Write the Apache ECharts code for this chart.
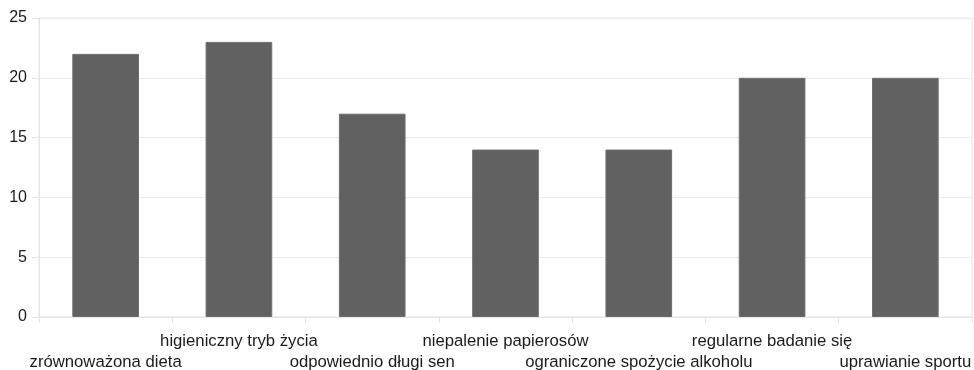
<!DOCTYPE html>
<html>
<head>
<meta charset="utf-8">
<script src="https://cdn.jsdelivr.net/npm/echarts@6/dist/echarts.min.js"></script>
<style>
  html, body { margin: 0; padding: 0; background: #fff; }
  #chart { width: 974px; height: 370px; }
</style>
</head>
<body>
<div id="chart"></div>
<script>
// Healthy lifestyle factors and their counts
const categories = [
  'zrównoważona dieta',
  'higieniczny tryb życia',
  'odpowiednio długi sen',
  'niepalenie papierosów',
  'ograniczone spożycie alkoholu',
  'regularne badanie się',
  'uprawianie sportu'
];
const values = [22, 23, 17, 14, 14, 20, 20];
const yTicks = { min: 0, max: 25, interval: 5 };

const font = '"Liberation Sans", Arial, sans-serif';
const chart = echarts.init(document.getElementById('chart'));

chart.setOption({
  animation: false,
  grid: {
    left: 39, right: 2, top: 18, bottom: 53,
    outerBoundsMode: 'none',
    show: true, borderColor: '#e4e4e4', borderWidth: 1
  },
  xAxis: {
    type: 'category',
    data: categories,
    axisLine: { show: true, lineStyle: { color: '#e4e4e4' } },
    axisTick: { show: true, length: 6, lineStyle: { color: '#e4e4e4' } },
    axisLabel: {
      interval: 0,
      hideOverlap: false,
      margin: 14,
      fontSize: 16.7,
      lineHeight: 21,
      color: '#1a1a1a',
      fontFamily: font,
      verticalAlign: 'top',
      // alternate labels between two rows
      formatter: (name, idx) => (idx % 2 === 1 ? name : '\n' + name)
    }
  },
  yAxis: {
    type: 'value',
    min: yTicks.min,
    max: yTicks.max,
    interval: yTicks.interval,
    axisLine: { show: true, lineStyle: { color: '#e4e4e4' } },
    axisTick: { show: true, length: 7, lineStyle: { color: '#e4e4e4' } },
    splitLine: { show: true, lineStyle: { color: '#ececec' } },
    axisLabel: {
      margin: 12,
      fontSize: 16,
      color: '#1a1a1a',
      fontFamily: font
    }
  },
  series: [{
    type: 'bar',
    data: values,
    barWidth: '50%',
    itemStyle: { color: '#616161', borderColor: '#6e6e6e', borderWidth: 1 }
  }]
});
</script>
</body>
</html>
